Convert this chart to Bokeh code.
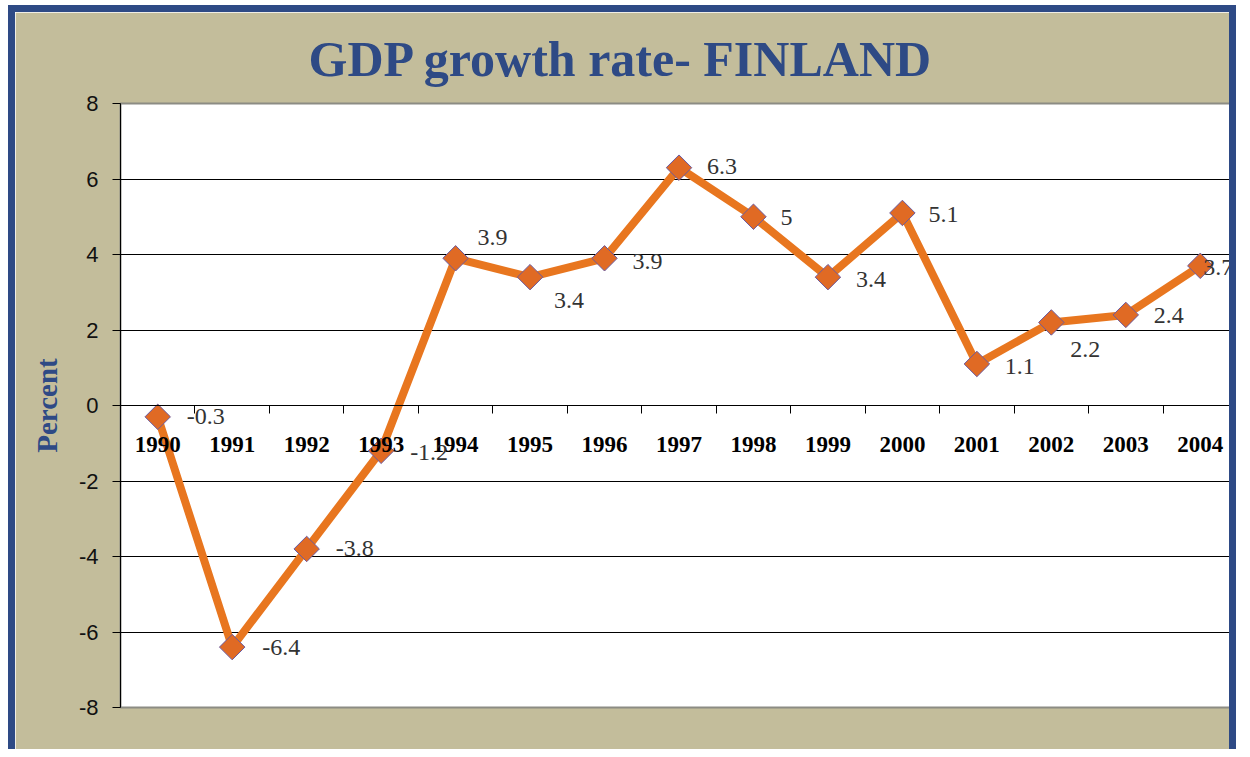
import numpy as np
from bokeh.plotting import figure
from bokeh.models import ColumnDataSource, FixedTicker, Range1d, LabelSet
from bokeh.embed import file_html
from bokeh.resources import INLINE

# ---- data ----
years = ["1990", "1991", "1992", "1993", "1994", "1995", "1996", "1997",
         "1998", "1999", "2000", "2001", "2002", "2003", "2004"]
growth = [-0.3, -6.4, -3.8, -1.2, 3.9, 3.4, 3.9, 6.3, 5, 3.4, 5.1, 1.1, 2.2, 2.4, 3.7]
label_texts = ["-0.3", "-6.4", "-3.8", "-1.2", "3.9", "3.4", "3.9", "6.3",
               "5", "3.4", "5.1", "1.1", "2.2", "2.4", "3.7"]
y_ticks = [-8, -6, -4, -2, 0, 2, 4, 6, 8]

# ---- label placement (style, pixels; positive dy = up for LabelSet) ----
label_dx = [29, 30, 29, 29, 22, 24, 28, 28, 27, 28, 26, 28, 19, 28, 3]
label_dy = [0, 0, 0, -2, 21, -23, -3, 1, -1, -2, -2, -3, -27, -1, -2]

BG = "#C3BD9B"
BLUE = "#2E4A85"
ORANGE = "#E8761F"

n = len(years)
xs = np.arange(n) + 0.5
src = ColumnDataSource(dict(x=xs, y=growth, t=label_texts, dx=label_dx, dy=label_dy))

p = figure(width=1228, height=744, output_backend="svg", toolbar_location=None,
           x_range=Range1d(0, n), y_range=Range1d(y_ticks[0], y_ticks[-1]),
           min_border_left=105, min_border_right=6, min_border_top=88, min_border_bottom=49)
p.styles = {"margin-left": "8px", "margin-top": "5px",
            "border-left": f"7px solid {BLUE}", "border-top": f"7px solid {BLUE}",
            "border-right": f"7px solid {BLUE}"}

p.border_fill_color = BG
p.background_fill_color = "white"
p.outline_line_color = "#8C8C84"
p.outline_line_width = 2

# title
p.title.text = "GDP growth rate- FINLAND"
p.title.text_font = "Liberation Serif"
p.title.text_font_style = "bold"
p.title.text_font_size = "50px"
p.title.text_color = BLUE
p.title.align = "left"
p.title.offset = 188
p.title.standoff = 33

# y axis
p.yaxis.ticker = FixedTicker(ticks=y_ticks)
p.yaxis.major_label_overrides = {t: str(t) for t in y_ticks}
p.yaxis.major_label_text_font = "Liberation Sans"
p.yaxis.major_label_text_font_size = "22px"
p.yaxis.major_label_text_color = "#111111"
p.yaxis.major_tick_out = 8
p.yaxis.major_tick_in = 0
p.yaxis.minor_tick_line_color = None
p.yaxis.axis_line_color = "black"
p.yaxis.major_tick_line_color = "black"
p.yaxis.major_label_standoff = 14
p.yaxis.axis_label = "Percent"
p.yaxis.axis_label_text_font = "Liberation Serif"
p.yaxis.axis_label_text_font_style = "bold"
p.yaxis.axis_label_text_font_size = "29px"
p.yaxis.axis_label_text_color = BLUE
p.yaxis.axis_label_standoff = 13

# x axis drawn at y = 0
p.xaxis.fixed_location = 0
p.xaxis.ticker = FixedTicker(ticks=list(xs), minor_ticks=list(range(0, n + 1)))
p.xaxis.major_label_overrides = {float(x): y for x, y in zip(xs, years)}
p.xaxis.major_tick_line_color = None
p.xaxis.major_tick_out = 0
p.xaxis.major_tick_in = 0
p.xaxis.minor_tick_out = 8
p.xaxis.minor_tick_in = 0
p.xaxis.minor_tick_line_color = "black"
p.xaxis.axis_line_color = "black"
p.xaxis.major_label_text_font = "Liberation Serif"
p.xaxis.major_label_text_font_style = "bold"
p.xaxis.major_label_text_font_size = "23px"
p.xaxis.major_label_text_color = "black"
p.xaxis.major_label_standoff = 23

# grid
p.xgrid.grid_line_color = None
p.ygrid.ticker = FixedTicker(ticks=y_ticks[1:-1])
p.ygrid.grid_line_color = "black"
p.ygrid.grid_line_width = 1

# series
p.line("x", "y", source=src, line_color=ORANGE, line_width=8, line_join="round")
p.scatter("x", "y", source=src, marker="square", angle=np.pi / 4, size=18,
          fill_color="#E06A24", line_color="#6B5AA0", line_width=1)
labels = LabelSet(x="x", y="y", text="t", source=src, x_offset="dx", y_offset="dy",
                  text_font="Liberation Serif", text_font_size="24px",
                  text_color="#333333", text_baseline="middle", text_align="left")
p.add_layout(labels)

open("out.html", "w").write(file_html(p, INLINE))
